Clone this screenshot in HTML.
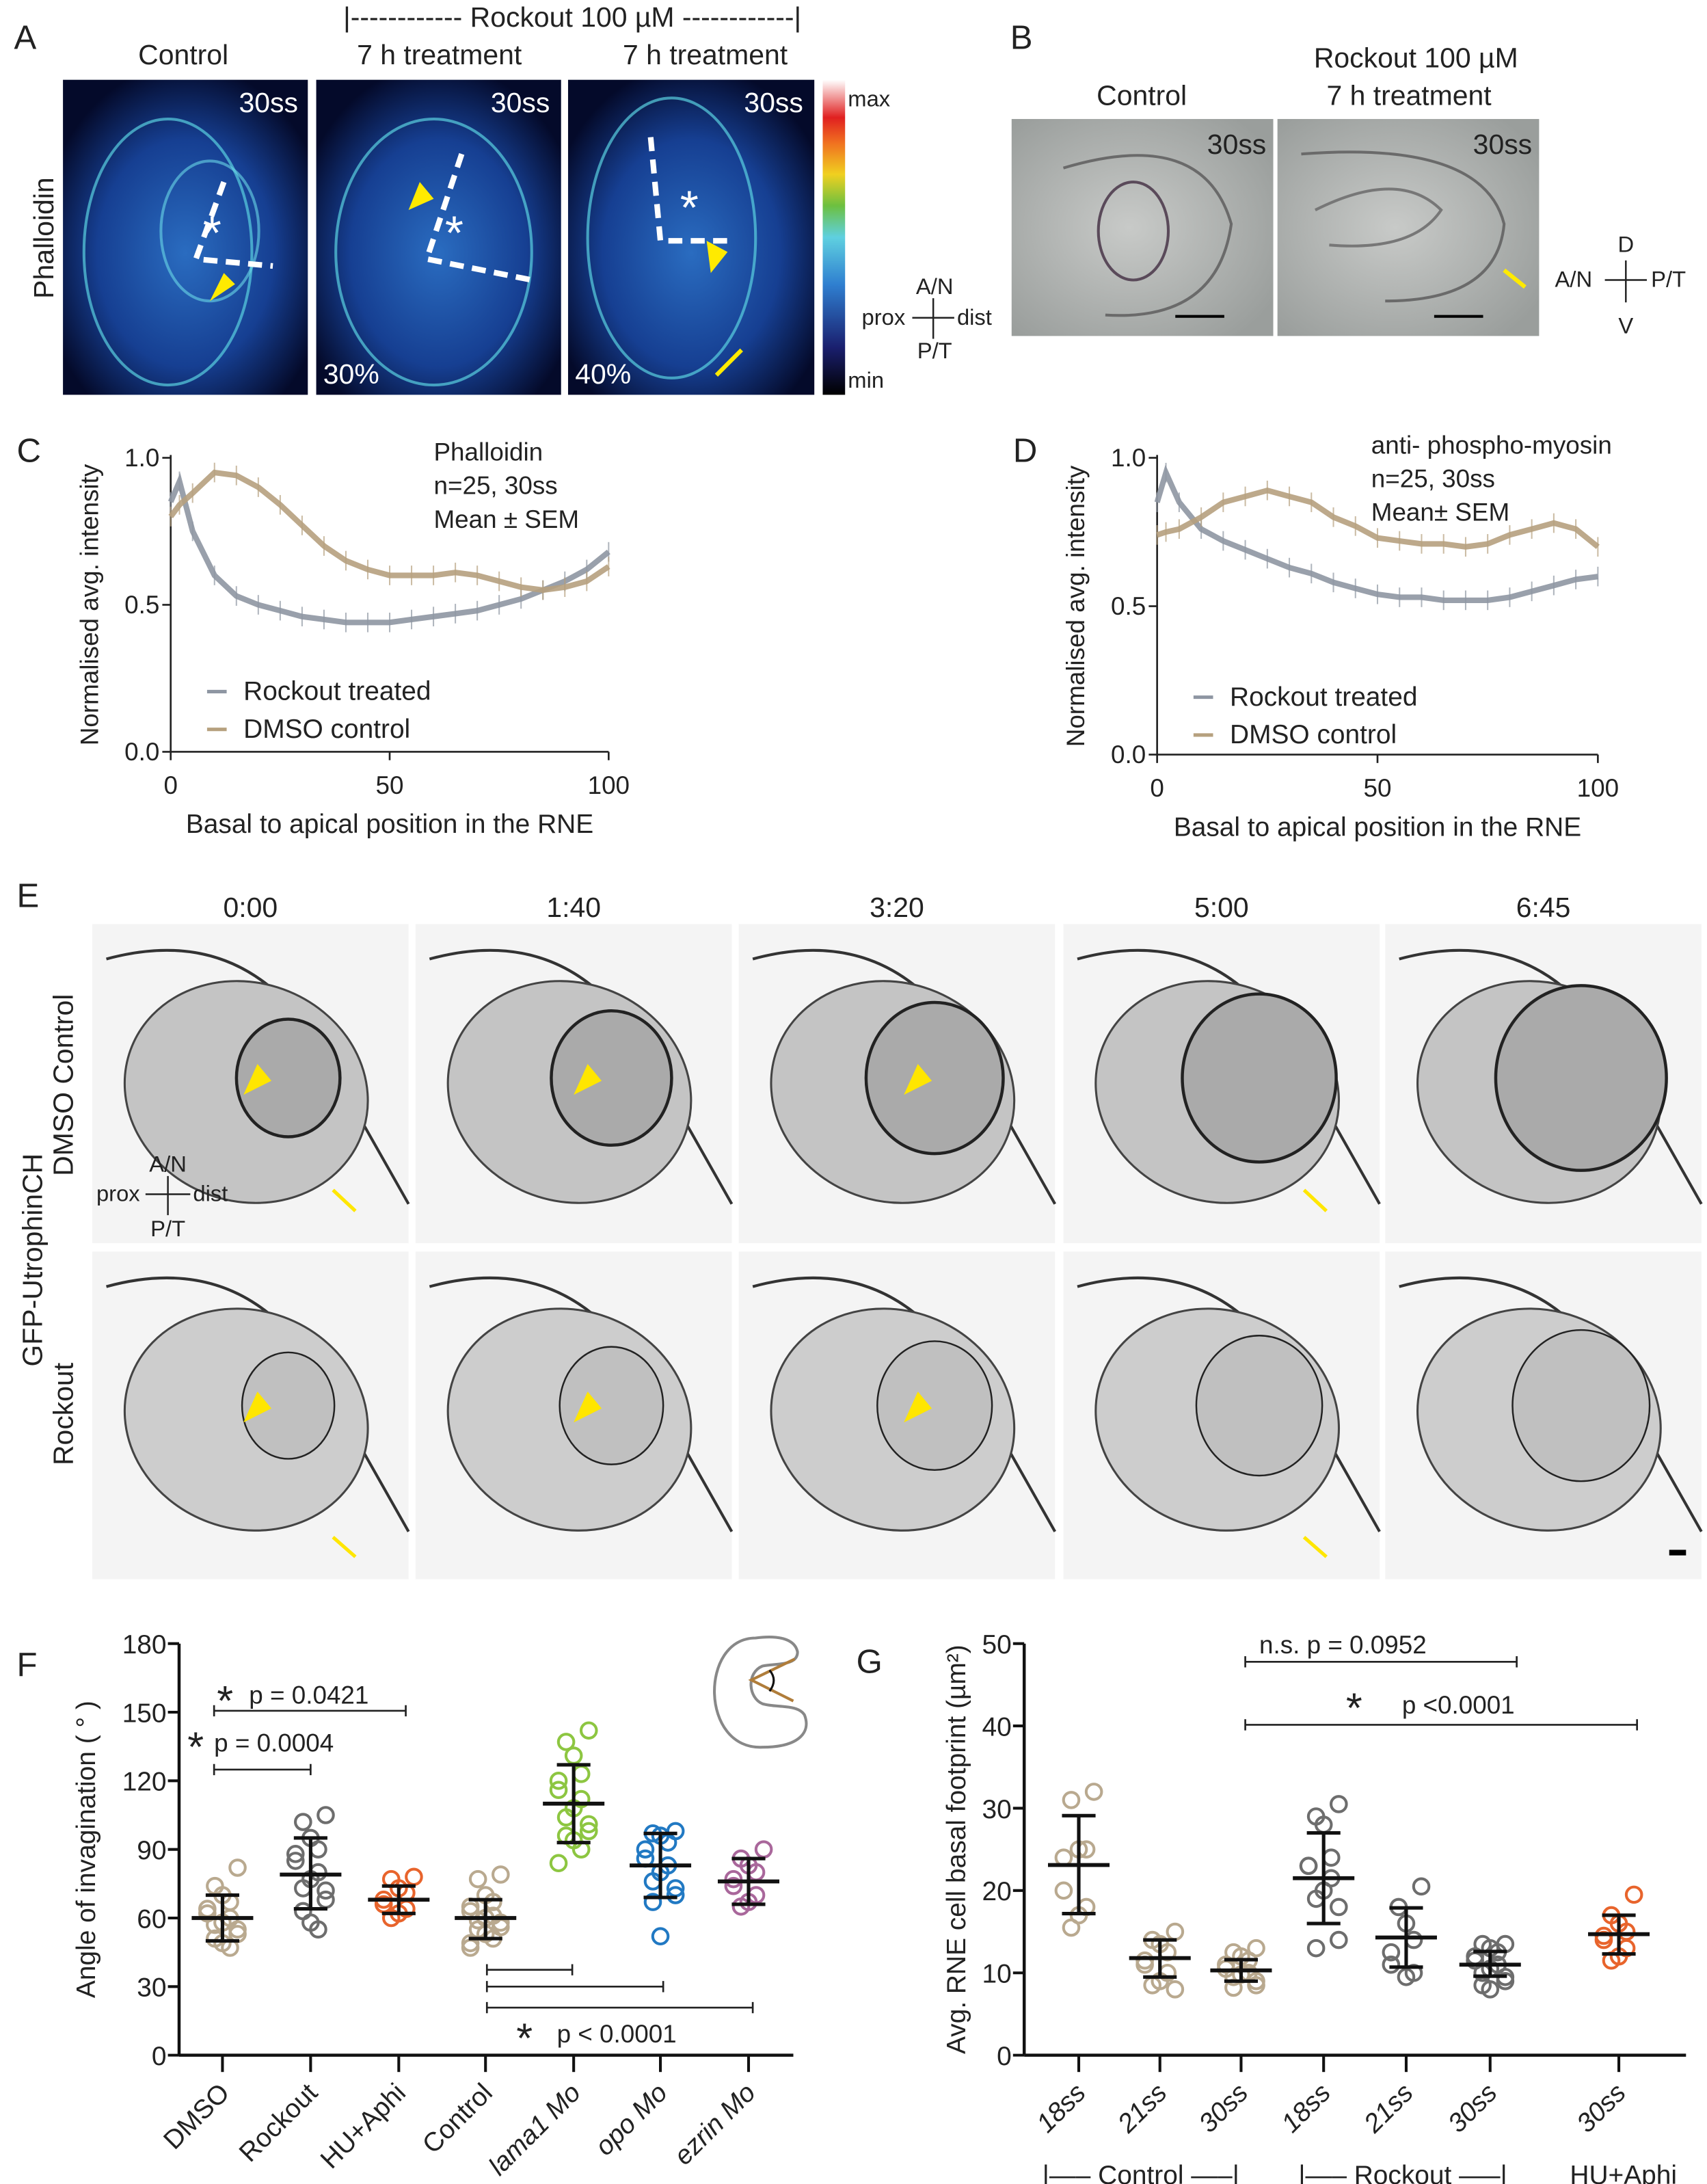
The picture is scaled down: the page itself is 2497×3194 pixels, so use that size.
<!DOCTYPE html>
<html><head><meta charset="utf-8"><style>
html,body{margin:0;padding:0;background:#fff}
svg{display:block}
text{font-family:"Liberation Sans",sans-serif;fill:#222}
</style></head><body>
<svg id="fig" xmlns="http://www.w3.org/2000/svg" width="2497" height="3194" viewBox="0 0 1220 1560" preserveAspectRatio="none">
<defs>
<radialGradient id="blueimg" cx="50%" cy="55%" r="60%"><stop offset="0" stop-color="#2a6cc0"/><stop offset="0.6" stop-color="#163f92"/><stop offset="1" stop-color="#040a2a"/></radialGradient>
<linearGradient id="cbar" x1="0" y1="1" x2="0" y2="0"><stop offset="0" stop-color="#000"/><stop offset="0.15" stop-color="#1a1f6e"/><stop offset="0.35" stop-color="#2f7fd0"/><stop offset="0.5" stop-color="#5fd0e0"/><stop offset="0.6" stop-color="#6cc040"/><stop offset="0.7" stop-color="#f0d020"/><stop offset="0.8" stop-color="#f07020"/><stop offset="0.88" stop-color="#e02020"/><stop offset="1" stop-color="#fff"/></linearGradient>
<radialGradient id="grayimg" cx="45%" cy="50%" r="65%"><stop offset="0" stop-color="#c8cac8"/><stop offset="1" stop-color="#9a9e9c"/></radialGradient>
</defs>

<g>
<text x="10" y="35" font-size="24">A</text>
<text x="131" y="46" font-size="20" text-anchor="middle">Control</text>
<text x="409" y="19" font-size="20" text-anchor="middle">|------------ Rockout 100 µM ------------|</text>
<text x="314" y="46" font-size="20" text-anchor="middle">7 h treatment</text>
<text x="504" y="46" font-size="20" text-anchor="middle">7 h treatment</text>
<text transform="translate(38,170) rotate(-90)" font-size="20" text-anchor="middle">Phalloidin</text>
<g>
<rect x="45" y="57" width="175" height="225" fill="url(#blueimg)"/>
<ellipse cx="120" cy="180" rx="60" ry="95" fill="none" stroke="#5ad0e0" stroke-width="2" opacity="0.7"/>
<ellipse cx="150" cy="165" rx="35" ry="50" fill="none" stroke="#6ad8e8" stroke-width="2" opacity="0.6"/>
<path d="M160 130 L140 185 L195 190" fill="none" stroke="#fff" stroke-width="4" stroke-dasharray="10 6"/>
<text x="145" y="178" font-size="34" style="fill:#fff">*</text>
<polygon points="150,215 160,195 168,203" fill="#ffea00"/>
<text x="213" y="80" font-size="20" text-anchor="end" style="fill:#fff">30ss</text>
</g>
<g>
<rect x="226" y="57" width="175" height="225" fill="url(#blueimg)"/>
<ellipse cx="310" cy="180" rx="70" ry="95" fill="none" stroke="#5ad0e0" stroke-width="2" opacity="0.7"/>
<path d="M330 110 L305 185 L380 200" fill="none" stroke="#fff" stroke-width="4" stroke-dasharray="10 6"/>
<text x="318" y="178" font-size="34" style="fill:#fff">*</text>
<polygon points="292,150 300,130 310,142" fill="#ffea00"/>
<text x="393" y="80" font-size="20" text-anchor="end" style="fill:#fff">30ss</text>
<text x="231" y="274" font-size="20" style="fill:#fff">30%</text>
</g>
<g>
<rect x="406" y="57" width="176" height="225" fill="url(#blueimg)"/>
<ellipse cx="480" cy="170" rx="60" ry="100" fill="none" stroke="#5ad0e0" stroke-width="2" opacity="0.7"/>
<path d="M465 98 L472 172 L525 172" fill="none" stroke="#fff" stroke-width="4" stroke-dasharray="10 6"/>
<text x="486" y="160" font-size="34" style="fill:#fff">*</text>
<polygon points="508,195 505,172 520,180" fill="#ffea00"/>
<line x1="512" y1="268" x2="530" y2="250" stroke="#ffea00" stroke-width="3"/>
<text x="574" y="80" font-size="20" text-anchor="end" style="fill:#fff">30ss</text>
<text x="411" y="274" font-size="20" style="fill:#fff">40%</text>
</g>
<rect x="588" y="57" width="16" height="225" fill="url(#cbar)"/>
<text x="606" y="76" font-size="16">max</text>
<text x="606" y="277" font-size="16">min</text>
<g font-size="16">
<text x="668" y="210" text-anchor="middle">A/N</text>
<text x="647" y="232" text-anchor="end">prox</text>
<text x="684" y="232">dist</text>
<text x="668" y="256" text-anchor="middle">P/T</text>
<path d="M652 227 L682 227 M667 213 L667 242" stroke="#222" stroke-width="1.2"/>
</g>
</g>

<g>
<text x="722" y="35" font-size="24">B</text>
<text x="816" y="75" font-size="20" text-anchor="middle">Control</text>
<text x="1012" y="48" font-size="20" text-anchor="middle">Rockout 100 µM</text>
<text x="1007" y="75" font-size="20" text-anchor="middle">7 h treatment</text>
<g>
<rect x="723" y="85" width="187" height="155" fill="url(#grayimg)"/>
<ellipse cx="810" cy="165" rx="25" ry="35" fill="none" stroke="#5a4a5a" stroke-width="2"/>
<path d="M760 120 Q860 90 880 160 Q870 230 790 225" fill="none" stroke="#6a6a6a" stroke-width="2"/>
<text x="905" y="110" font-size="20" text-anchor="end">30ss</text>
<line x1="840" y1="226" x2="875" y2="226" stroke="#000" stroke-width="2"/>
</g>
<g>
<rect x="913" y="85" width="187" height="155" fill="url(#grayimg)"/>
<path d="M940 150 Q1000 120 1030 150 Q1010 180 950 175" fill="none" stroke="#777" stroke-width="2"/>
<path d="M930 110 Q1060 100 1075 160 Q1070 215 990 215" fill="none" stroke="#6a6a6a" stroke-width="2"/>
<line x1="1090" y1="205" x2="1075" y2="193" stroke="#ffea00" stroke-width="3"/>
<text x="1095" y="110" font-size="20" text-anchor="end">30ss</text>
<line x1="1025" y1="226" x2="1060" y2="226" stroke="#000" stroke-width="2"/>
</g>
<g font-size="16">
<text x="1162" y="180" text-anchor="middle">D</text>
<text x="1138" y="205" text-anchor="end">A/N</text>
<text x="1180" y="205">P/T</text>
<text x="1162" y="238" text-anchor="middle">V</text>
<path d="M1147 200 L1177 200 M1162 186 L1162 216" stroke="#222" stroke-width="1.2"/>
</g>
</g>

<g id="chartC"></g>
<g id="chartD"></g>
<text x="12" y="330" font-size="24">C</text>
<text x="724" y="330" font-size="24">D</text>

<g id="panelE">
<text x="12" y="648" font-size="24">E</text>
<text transform="translate(30,900) rotate(-90)" font-size="20" text-anchor="middle">GFP-UtrophinCH</text>
<text transform="translate(52,775) rotate(-90)" font-size="20" text-anchor="middle">DMSO Control</text>
<text transform="translate(52,1010) rotate(-90)" font-size="20" text-anchor="middle">Rockout</text>
</g>

<g id="chartF"></g>
<g id="chartG"></g>
</svg>

<script>
var NS='http://www.w3.org/2000/svg';
function mk(parent,tag,attrs,txt){var e=document.createElementNS(NS,tag);for(var k in attrs)e.setAttribute(k,attrs[k]);if(txt!==undefined)e.textContent=txt;parent.appendChild(e);return e;}

var cPositions=[0,2,5,10,15,20,25,30,35,40,45,50,55,60,65,70,75,80,85,90,95,100];
var cRockout=[0.85,0.92,0.75,0.60,0.53,0.50,0.48,0.46,0.45,0.44,0.44,0.44,0.45,0.46,0.47,0.48,0.50,0.52,0.55,0.58,0.62,0.68];
var cDmso=[0.80,0.84,0.88,0.95,0.94,0.90,0.84,0.77,0.70,0.65,0.62,0.60,0.60,0.60,0.61,0.60,0.58,0.56,0.55,0.56,0.58,0.63];
var dPositions=[0,2,5,10,15,20,25,30,35,40,45,50,55,60,65,70,75,80,85,90,95,100];
var dRockout=[0.85,0.95,0.85,0.76,0.72,0.69,0.66,0.63,0.61,0.58,0.56,0.54,0.53,0.53,0.52,0.52,0.52,0.53,0.55,0.57,0.59,0.60];
var dDmso=[0.74,0.75,0.76,0.80,0.85,0.87,0.89,0.87,0.85,0.80,0.77,0.73,0.72,0.71,0.71,0.70,0.71,0.74,0.76,0.78,0.76,0.70];
var lineYTicks=[0,0.5,1.0];
var lineYTickLabels=['0.0','0.5','1.0'];
var lineXTicks=[0,50,100];

function lineChart(g,o){
  var x=function(v){return o.x0+(v/100)*(o.x1-o.x0);};
  var y=function(v){return o.y0-(v)*(o.y0-o.y1);};
  mk(g,'line',{x1:o.x0,y1:o.y1-2,x2:o.x0,y2:o.y0,stroke:'#222','stroke-width':1.3});
  mk(g,'line',{x1:o.x0,y1:o.y0,x2:o.x1,y2:o.y0,stroke:'#222','stroke-width':1.3});
  lineYTicks.forEach(function(t,i){
    mk(g,'line',{x1:o.x0-6,x2:o.x0,y1:y(t),y2:y(t),stroke:'#222','stroke-width':1.3});
    var tl=mk(g,'text',{x:o.x0-8,y:y(t)+6,'font-size':18,'text-anchor':'end'},lineYTickLabels[i]);
    
    
  });
  lineXTicks.forEach(function(t){
    mk(g,'line',{x1:x(t),x2:x(t),y1:o.y0,y2:o.y0+6,stroke:'#222','stroke-width':1.3});
    var tl=mk(g,'text',{x:x(t),y:o.y0+30,'font-size':18,'text-anchor':'middle'},String(t));
    
    
  });
  var series=[[o.rock,'#8e96a2','series-rockout'],[o.dmso,'#b6a07e','series-dmso']];
  series.forEach(function(s){
    var vals=s[0];
    var sg=mk(g,'g',{});
    
    
    var d='';
    vals.forEach(function(v,i){
      var px=x(o.pos[i]),py=y(v);
      d+=(i?'L':'M')+px.toFixed(1)+' '+py.toFixed(1);
      mk(sg,'line',{x1:px,x2:px,y1:py-7,y2:py+7,stroke:s[1],'stroke-width':1,opacity:0.7});
    });
    mk(sg,'path',{d:d,fill:'none',stroke:s[1],'stroke-width':4,opacity:0.9});
  });
  var yt=mk(g,'text',{transform:'translate('+(o.x0-52)+','+((o.y0+o.y1)/2)+') rotate(-90)','font-size':18,'text-anchor':'middle'},'Normalised avg.  intensity');
  
  var xt=mk(g,'text',{x:(o.x0+o.x1)/2,y:o.y0+58,'font-size':19,'text-anchor':'middle'},'Basal to apical position in the RNE');
  
  o.notes.forEach(function(t,i){mk(g,'text',{x:o.nx,y:o.ny+i*24,'font-size':18},t);});
  var legend=[['Rockout treated','#8e96a2'],['DMSO control','#b6a07e']];
  legend.forEach(function(l,i){
    var lg=mk(g,'g',{});
    
    
    var ly=o.ly+i*27;
    mk(lg,'line',{x1:o.x0+26,x2:o.x0+40,y1:ly-6,y2:ly-6,stroke:l[1],'stroke-width':2.5});
    mk(lg,'text',{x:o.x0+52,y:ly,'font-size':19},l[0]);
  });
}
lineChart(document.getElementById('chartC'),{x0:122,x1:435,y0:537,y1:327,pos:cPositions,rock:cRockout,dmso:cDmso,notes:['Phalloidin','n=25, 30ss','Mean ± SEM'],nx:310,ny:329,ly:500});
lineChart(document.getElementById('chartD'),{x0:827,x1:1142,y0:539,y1:327,pos:dPositions,rock:dRockout,dmso:dDmso,notes:['anti- phospho-myosin','n=25, 30ss','Mean± SEM'],nx:980,ny:324,ly:504});

var eTimes=['0:00','1:40','3:20','5:00','6:45'];
(function(){
  var g=document.getElementById('panelE');
  var cols=[66,297,528,760,990], rows=[660,894], w=226, h=[228,234];
  eTimes.forEach(function(t,i){
    var tl=mk(g,'text',{x:cols[i]+113,y:655,'font-size':20,'text-anchor':'middle'},t);
    
    
    rows.forEach(function(ry,r){
      var ig=mk(g,'g',{});
      
      
      var cx=cols[i];
      mk(ig,'rect',{x:cx,y:ry,width:w,height:h[r],fill:'#f4f4f4'});
      mk(ig,'path',{d:'M'+(cx+10)+' '+(ry+25)+' Q'+(cx+120)+' '+(ry-5)+' '+(cx+175)+' '+(ry+110)+' L'+(cx+226)+' '+(ry+200),fill:'none',stroke:'#333','stroke-width':2});
      mk(ig,'ellipse',{cx:cx+110,cy:ry+120,rx:88,ry:78,fill:r?'#cdcdcd':'#c4c4c4',stroke:'#444','stroke-width':1.5,transform:'rotate(20 '+(cx+110)+' '+(ry+120)+')'});
      var inner=r?18+i*4:22+i*6;
      mk(ig,'ellipse',{cx:cx+140,cy:ry+110,rx:inner+15,ry:inner+20,fill:r?'#c0c0c0':'#aaaaaa',stroke:'#222','stroke-width':r?1.2:2.2});
      if(i<3){mk(ig,'polygon',{points:(cx+108+i*5)+','+(ry+122)+' '+(cx+118+i*5)+','+(ry+100)+' '+(cx+128+i*5)+','+(ry+112),fill:'#ffe600'});}
      if(i===0||i===3){mk(ig,'line',{x1:cx+188,y1:ry+(r?218:205),x2:cx+172,y2:ry+(r?204:190),stroke:'#ffe600','stroke-width':2.5});}
    });
  });
  var cg=mk(g,'g',{'font-size':16});
  
  
  mk(cg,'text',{x:120,y:837,'text-anchor':'middle'},'A/N');
  mk(cg,'text',{x:100,y:858,'text-anchor':'end'},'prox');
  mk(cg,'text',{x:138,y:858},'dist');
  mk(cg,'text',{x:120,y:883,'text-anchor':'middle'},'P/T');
  mk(cg,'path',{d:'M104 853 L136 853 M120 840 L120 868',stroke:'#222','stroke-width':1.2});
  mk(g,'rect',{x:1193,y:1107,width:12,height:4,fill:'#000'});
})();

var fCategories=['DMSO','Rockout','HU+Aphi','Control','lama1 Mo','opo  Mo','ezrin  Mo'];
var fMeans=[60,79,68,60,110,83,76];
var fSdLow=[50,64,62,51,93,69,66];
var fSdHigh=[70,95,74,68,127,97,86];
var fPointsDMSO=[82,74,70,67,64,62,60,58,57,55,53,51,49,47];
var fPointsRockout=[105,102,95,90,88,85,80,77,73,72,68,63,58,55];
var fPointsHU=[78,77,73,71,68,66,64,62,60];
var fPointsControl=[79,77,70,67,65,63,61,60,59,58,56,55,53,51,49,47];
var fPointsLama1=[142,137,131,123,120,116,112,108,104,101,98,96,94,90,84];
var fPointsOpo=[98,97,96,93,90,86,83,80,76,73,70,67,52];
var fPointsEzrin=[90,86,83,80,77,74,70,67,65];
var fPoints=[fPointsDMSO,fPointsRockout,fPointsHU,fPointsControl,fPointsLama1,fPointsOpo,fPointsEzrin];
var fYTicks=[0,30,60,90,120,150,180];

var gCategories=['18ss','21ss','30ss','18ss','21ss','30ss','30ss'];
var gMeans=[23.1,11.8,10.3,21.5,14.3,11.0,14.7];
var gSdLow=[17.2,9.5,9.0,16.0,10.7,9.6,12.3];
var gSdHigh=[29.1,14.0,11.6,27.0,17.9,12.6,17.0];
var gPoints18C=[32,31,25,25,24,20,18,17,15.5];
var gPoints21C=[15,14,13.5,12.5,11.5,11,10,9,8.5,8];
var gPoints30C=[13,12.5,12,11.5,11,10.5,10,9.8,9.5,9,8.5,8.2];
var gPoints18R=[30.5,29,28,24,23,23,21.5,20,19,18,14,13];
var gPoints21R=[20.5,18,16,14,12.5,11,10,9.5];
var gPoints30R=[13.5,13.5,13,12.5,12,11.5,11,10.5,10,9.5,9,8.5,8];
var gPointsHU=[19.5,17,16,15,14.5,14,13,12,11.5];
var gPoints=[gPoints18C,gPoints21C,gPoints30C,gPoints18R,gPoints21R,gPoints30R,gPointsHU];
var gYTicks=[0,10,20,30,40,50];

function dotChart(g,o){
  var y=function(v){return o.y0-(v/o.ymax)*(o.y0-o.y1);};
  mk(g,'line',{x1:o.x0,y1:o.y1,x2:o.x0,y2:o.y0,stroke:'#111','stroke-width':2.2});
  mk(g,'line',{x1:o.x0,y1:o.y0,x2:o.xend,y2:o.y0,stroke:'#111','stroke-width':2.2});
  o.yticks.forEach(function(t){
    mk(g,'line',{x1:o.x0-8,x2:o.x0,y1:y(t),y2:y(t),stroke:'#111','stroke-width':2});
    var tl=mk(g,'text',{x:o.x0-9,y:y(t)+7,'font-size':19,'text-anchor':'end'},String(t));
    
    
  });
  o.cats.forEach(function(c,i){
    var cx=o.xs[i];
    mk(g,'line',{x1:cx,x2:cx,y1:o.y0,y2:o.y0+12,stroke:'#111','stroke-width':2});
    var lab=mk(g,'text',{transform:'translate('+(cx+6)+','+(o.y0+28)+') rotate(-45)','font-size':19,'text-anchor':'end','font-style':o.italic[i]?'italic':'normal'},c);
    
    
    var sg=mk(g,'g',{});
    
    
    var pts=o.points[i];
    pts.forEach(function(v,j){
      var off=((j%5)-2)*6*(j%2?1:-1)*0.9;
      var dot=mk(sg,'circle',{cx:cx+off,cy:y(v),r:5.5,fill:'none',stroke:o.colors[i],'stroke-width':2});
      
      
    });
    mk(sg,'line',{x1:cx,x2:cx,y1:y(o.hi[i]),y2:y(o.lo[i]),stroke:'#111','stroke-width':2.5});
    mk(sg,'line',{x1:cx-22,x2:cx+22,y1:y(o.means[i]),y2:y(o.means[i]),stroke:'#111','stroke-width':2.8});
    mk(sg,'line',{x1:cx-12,x2:cx+12,y1:y(o.hi[i]),y2:y(o.hi[i]),stroke:'#111','stroke-width':2.5});
    mk(sg,'line',{x1:cx-12,x2:cx+12,y1:y(o.lo[i]),y2:y(o.lo[i]),stroke:'#111','stroke-width':2.5});
  });
  var yt=mk(g,'text',{transform:'translate('+o.ytx+','+((o.y0+o.y1)/2)+') rotate(-90)','font-size':19,'text-anchor':'middle'},o.ytitle);
  
  o.brackets.forEach(function(b){
    var bg=mk(g,'g',{});
    
    
    mk(bg,'path',{d:'M'+b[0]+' '+(b[2]-4)+'V'+(b[2]+4)+'M'+b[0]+' '+b[2]+'H'+b[1]+'M'+b[1]+' '+(b[2]-4)+'V'+(b[2]+4),stroke:'#222','stroke-width':1.3,fill:'none'});
  });
}
var fColors=['#b9a98f','#6d6d6d','#e8642c','#b9a98f','#8dc641','#2179c3','#a9679b'];
var fg=document.getElementById('chartF');
dotChart(fg,{x0:128,xend:567,y0:1468,y1:1174,ymax:180,yticks:fYTicks,cats:fCategories,xs:[159,222,285,347,410,472,535],points:fPoints,means:fMeans,lo:fSdLow,hi:fSdHigh,colors:fColors,italic:[0,0,0,0,1,1,1],ytitle:'Angle of invagination ( ° )',ytx:68,
  brackets:[[153,290,1222],[153,222,1264],[348,409,1407],[348,474,1419],[348,538,1434]]});
mk(fg,'text',{x:12,y:1197,'font-size':24},'F');
mk(fg,'text',{x:178,y:1217,'font-size':18},'p = 0.0421');
mk(fg,'text',{x:153,y:1251,'font-size':18},'p = 0.0004');
mk(fg,'text',{x:398,y:1459,'font-size':18},'p < 0.0001');
mk(fg,'text',{x:155,y:1225,'font-size':30},'*');
mk(fg,'text',{x:134,y:1258,'font-size':30},'*');
mk(fg,'text',{x:369,y:1466,'font-size':30},'*');
var ins=mk(fg,'g',{});


mk(ins,'path',{d:'M540 1170 C500 1170 500 1250 545 1248 C570 1248 580 1238 575 1225 C570 1217 555 1220 545 1217 C535 1213 533 1195 545 1190 C555 1188 570 1190 570 1180 C568 1170 555 1168 540 1170 Z',fill:'none',stroke:'#888','stroke-width':2});
mk(ins,'path',{d:'M568 1185 L537 1200 L567 1215',fill:'none',stroke:'#b07d3a','stroke-width':2});
mk(ins,'path',{d:'M550 1193 Q556 1200 550 1208',fill:'none',stroke:'#111','stroke-width':1.5});

var gColors=['#b9a98f','#b9a98f','#b9a98f','#6d6d6d','#6d6d6d','#6d6d6d','#e8642c'];
var gg=document.getElementById('chartG');
dotChart(gg,{x0:732,xend:1205,y0:1468,y1:1174,ymax:50,yticks:gYTicks,cats:gCategories,xs:[771,829,887,946,1005,1065,1157],points:gPoints,means:gMeans,lo:gSdLow,hi:gSdHigh,colors:gColors,italic:[1,1,1,1,1,1,1],ytitle:'Avg. RNE cell basal footprint  (µm²)',ytx:690,
  brackets:[[890,1084,1187],[890,1170,1232]]});
mk(gg,'text',{x:612,y:1195,'font-size':24},'G');
mk(gg,'text',{x:900,y:1181,'font-size':18},'n.s. p = 0.0952');
mk(gg,'text',{x:1002,y:1224,'font-size':18},'p <0.0001');
mk(gg,'text',{x:962,y:1230,'font-size':30},'*');
mk(gg,'text',{x:745,y:1560,'font-size':19},'|—– Control —–|');
mk(gg,'text',{x:928,y:1560,'font-size':19},'|—– Rockout —–|');
mk(gg,'text',{x:1122,y:1560,'font-size':19},'HU+Aphi');
</script>
</body></html>
